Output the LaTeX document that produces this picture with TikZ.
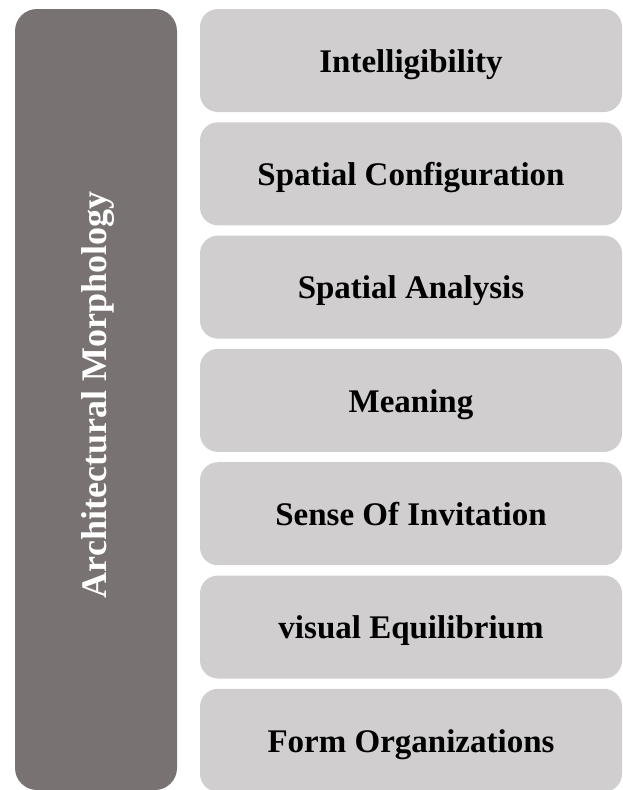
\documentclass[tikz,border=0pt]{standalone}
\usepackage{fontspec}
\setmainfont{Liberation Serif}
\usepackage{tikz}

\definecolor{morphdark}{HTML}{787372}
\definecolor{morphlight}{HTML}{D0CECF}

\tikzset{
  headbox/.style={fill=morphdark, draw=none, rounded corners=22pt,
    minimum width=162pt, minimum height=781pt, inner sep=0pt},
  itembox/.style={fill=morphlight, draw=none, rounded corners=18pt,
    minimum width=422pt, minimum height=103pt, inner sep=0pt,
    text height=23.5pt, text depth=0pt,
    font=\fontsize{33}{38}\selectfont\bfseries, text=black}
}

\begin{document}
\begin{tikzpicture}[x=1pt, y=-1pt]
	\useasboundingbox (0,0) rectangle (622,790);
	\begin{scope}

    \node[headbox] (head) at (96,399.5) {};
    \node[rotate=90, text=white, font=\fontsize{36}{40}\selectfont\bfseries] (headtext) at (98,395) {Architectural Morphology};

    \node[itembox] (intel) at (411,60.5) {Intelligibility};
    \node[itembox] (config) at (411,173.8) {Spatial Configuration};
    \node[itembox] (analysis) at (411,287.1) {Spatial Analysis};
    \node[itembox] (meaning) at (411,400.4) {Meaning};
    \node[itembox] (invite) at (411,513.7) {Sense Of Invitation};
    \node[itembox] (equil) at (411,627) {visual Equilibrium};
    \node[itembox] (form) at (411,740.3) {Form Organizations};
    \end{scope}

\end{tikzpicture}
\end{document}
